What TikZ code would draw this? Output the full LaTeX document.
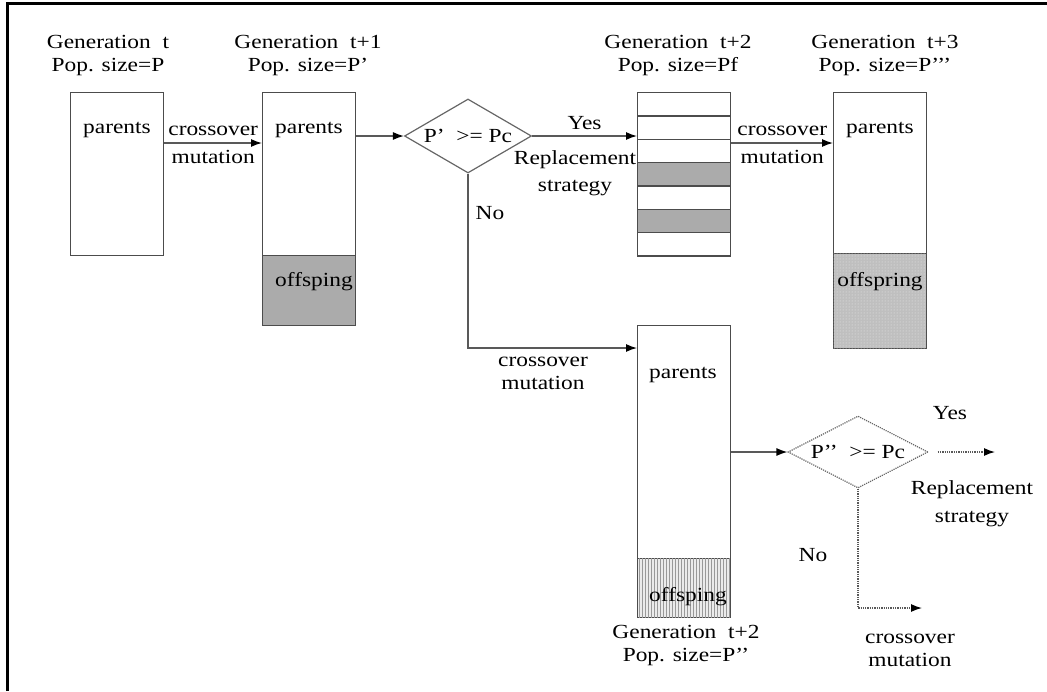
\documentclass[tikz,border=0pt]{standalone}
\usepackage{fontspec}
\setmainfont{Liberation Serif}[FakeStretch=1.17]
\usetikzlibrary{shapes,arrows.meta,positioning,patterns}
\tikzstyle{arrow} = [line width=1.3pt, draw=black!65, ->, >={Latex[length=11pt,width=8pt,black]}]
\tikzstyle{dotarrow} = [arrow, densely dotted]
\begin{document}
\begin{tikzpicture}[x=1pt,y=-1pt,font=\fontsize{20}{23}\selectfont]
\tikzset{box/.style={draw=black!70,line width=1.4pt,minimum width=93pt,inner sep=0pt,anchor=north west},
cond/.style={diamond,aspect=1.8,draw=black!60,line width=1.2pt,minimum width=127pt,minimum height=74pt,inner sep=0pt},
hdr/.style={align=center,inner sep=0pt}}
\useasboundingbox (0,0) rectangle (1047,691);
\draw[line width=3pt] (7,691) -- (7,3) -- (1047,3);

% generation t
\node[hdr] (hdr0) at (108,56) {Generation\ \ t\\Pop. size=P};
\node[box,minimum height=163pt] (gen0) at (70,92) {};
\node (gen0par) at (117,130) {parents};

% generation t+1
\node[hdr] (hdr1) at (308,56) {Generation\ \ t+1\\Pop. size=P’};
\node[box,minimum height=163pt] (gen1par) at (262,92) {};
\node[box,minimum height=70pt,fill=black!33] (gen1off) at (262,255) {};
\node (gen1ptxt) at (309,130) {parents};
\node (gen1otxt) at (314,282) {offsping};

% test P'
\node[cond] (cond1) at (468,136) {P’ \ >= Pc};

% generation t+2, replaced
\node[hdr] (hdr2) at (678,56) {Generation\ \ t+2\\Pop. size=Pf};
\foreach \f [count=\i from 0] in {white,white,white,black!33,white,black!33,white}
  \node[box,minimum height=23.3pt,fill=\f] (gen2r\i) at (637,92+\i*23.3) {};

% generation t+3
\node[hdr] (hdr3) at (885,56) {Generation\ \ t+3\\Pop. size=P’’’};
\node[box,minimum height=161pt] (gen3par) at (833,92) {};
\node[box,minimum height=95pt,fill=black!25,postaction={pattern=dots,pattern color=black!8}] (gen3off) at (833,253) {};
\node (gen3ptxt) at (880,130) {parents};
\node (gen3otxt) at (880,282) {offspring};

% generation t+2, grown
\node[box,minimum height=233pt] (gen4par) at (637,325) {};
\node[box,minimum height=59pt,fill=black!8,postaction={pattern=vertical lines,pattern color=black!40}] (gen4off) at (637,558) {};
\node (gen4ptxt) at (683,375) {parents};
\node (gen4otxt) at (688,597) {offsping};
\node[hdr] (hdr4) at (686,645) {Generation\ \ t+2\\Pop. size=P’’};

% test P''
\node[cond,densely dotted,minimum width=140pt,minimum height=72pt] (cond2) at (858,452) {P’’ \ >= Pc};

\coordinate (lvl) at (0,143);
\coordinate (nolvl) at (0,348);
\coordinate (yes2) at (995,452);
\coordinate (no2) at (922,608);

\draw[arrow] (gen0.east |- lvl) -- (gen1par.west |- lvl)
  node[midway,above=3pt] (co0) {crossover} node[midway,below=3pt] (mu0) {mutation};
\draw[arrow] (gen1par.east |- cond1.west) -- (cond1.west);
\draw[arrow] (cond1.east) -- (cond1.east -| gen2r0.west)
  node[midway,above=2pt] (yes1) {Yes};
\node[hdr,anchor=north] (rep1) at (575,150) {Replacement\\[4pt]strategy};
\draw[arrow] (gen2r0.east |- lvl) -- (gen3par.west |- lvl)
  node[midway,above=3pt] (co1) {crossover} node[midway,below=3pt] (mu1) {mutation};
\draw[arrow] (cond1.south) -- (cond1.south |- nolvl) -- (gen4par.west |- nolvl);
\node (no1) at (490,213) {No};
\node[hdr,anchor=north] (co2) at (543,357) {crossover\\mutation};

\draw[arrow] (gen4par.east |- cond2.west) -- (cond2.west);
\draw[dotarrow] ([xshift=9pt]cond2.east) -- (yes2);
\node (yes3) at (950,413) {Yes};
\node[hdr] (rep2) at (972,504) {Replacement\\[5pt]strategy};
\draw[dotarrow] (cond2.south) -- (cond2.south |- no2) -- (no2);
\node (no3) at (813,555) {No};
\node[hdr] (co3) at (910,650) {crossover\\mutation};
\end{tikzpicture}
\end{document}
